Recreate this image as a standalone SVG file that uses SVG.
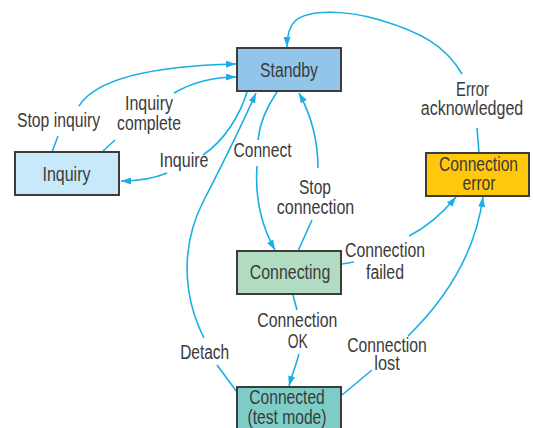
<svg xmlns="http://www.w3.org/2000/svg" width="533" height="428" viewBox="0 0 533 428">
<defs>
<marker id="arr" viewBox="0 0 10 7" refX="10" refY="3.5" markerWidth="10" markerHeight="7" markerUnits="userSpaceOnUse" orient="auto">
<path d="M0,0 L10,3.5 L0,7 z" fill="#1aaee6"/>
</marker>
<style>
.box{stroke:#3c3c3c;stroke-width:2}
text{font-family:"Liberation Sans Narrow","Liberation Sans",Arial,sans-serif;font-size:20px;fill:#3a3a3a;text-anchor:middle}
.c{fill:none;stroke:#1aaee6;stroke-width:1.6}
.a{marker-end:url(#arr)}
</style>
</defs>
<rect width="533" height="428" fill="#ffffff"/>
<g id="connectors">
<!-- Stop inquiry -->
<path class="c" d="M52,152 L58,136"/>
<path class="c a" d="M79,106 C95,80 150,66 236,64"/>
<!-- Inquiry complete -->
<path class="c" d="M102,152 L115,140"/>
<path class="c a" d="M174,93 C195,81 215,77 236,77"/>
<!-- Inquire -->
<path class="c" d="M247,92 C240,115 225,140 203,155"/>
<path class="c a" d="M167,173 C155,178 140,181 121,181"/>
<!-- Detach -->
<path class="c" d="M237,392 L217,365"/>
<path class="c a" d="M204,338 C180,290 183,240 204,200 C222,165 243,122 256,93"/>
<!-- Connect -->
<path class="c" d="M277,92 C268,105 260,120 258,140"/>
<path class="c a" d="M257,166 C255,195 261,225 275,250"/>
<!-- Stop connection -->
<path class="c" d="M298,251 L312,220"/>
<path class="c a" d="M318,168 C318,140 311,115 299,93"/>
<!-- Connection failed -->
<path class="c" d="M342,264 L354,262"/>
<path class="c a" d="M409,236 C425,228 441,215 456,197"/>
<!-- Connection lost -->
<path class="c" d="M342,395 L372,370"/>
<path class="c a" d="M408,336 C445,300 475,255 483,197"/>
<!-- Connection OK -->
<path class="c" d="M293,295 L297,310"/>
<path class="c a" d="M299,354 C296,365 292,375 289,386"/>
<!-- Error acknowledged -->
<path class="c" d="M479,153 L477,128"/>
<path class="c a" d="M462,74 C445,45 420,32 380,20 C350,11 310,8 295,21 C289,27 287,37 287,47"/>
</g>
<g id="labels">
<text x="58.5" y="126.5" textLength="83" lengthAdjust="spacingAndGlyphs">Stop inquiry</text>
<text x="149" y="110" textLength="48" lengthAdjust="spacingAndGlyphs">Inquiry</text>
<text x="149" y="130" textLength="64" lengthAdjust="spacingAndGlyphs">complete</text>
<text x="184" y="167" textLength="49" lengthAdjust="spacingAndGlyphs">Inquire</text>
<text x="262.5" y="157" textLength="58" lengthAdjust="spacingAndGlyphs">Connect</text>
<text x="315" y="193.5" textLength="32" lengthAdjust="spacingAndGlyphs">Stop</text>
<text x="315.5" y="214" textLength="77.5" lengthAdjust="spacingAndGlyphs">connection</text>
<text x="472.5" y="96" textLength="33" lengthAdjust="spacingAndGlyphs">Error</text>
<text x="472" y="114.5" textLength="102.5" lengthAdjust="spacingAndGlyphs">acknowledged</text>
<text x="385" y="257" textLength="80" lengthAdjust="spacingAndGlyphs">Connection</text>
<text x="385" y="278.5" textLength="38" lengthAdjust="spacingAndGlyphs">failed</text>
<text x="297.3" y="327" textLength="80" lengthAdjust="spacingAndGlyphs">Connection</text>
<text x="297.7" y="347.5" textLength="20" lengthAdjust="spacingAndGlyphs">OK</text>
<text x="204.7" y="358.5" textLength="49" lengthAdjust="spacingAndGlyphs">Detach</text>
<text x="387" y="352" textLength="79.5" lengthAdjust="spacingAndGlyphs">Connection</text>
<text x="387" y="370" textLength="25.5" lengthAdjust="spacingAndGlyphs">lost</text>
</g>
<g id="standby">
<rect class="box" x="237" y="48" width="104" height="43" fill="#92c5ea"/>
<text x="289" y="77" textLength="58" lengthAdjust="spacingAndGlyphs">Standby</text>
</g>
<g id="inquiry">
<rect class="box" x="15" y="152" width="104" height="43" fill="#c7e9f9"/>
<text x="66.5" y="181" textLength="48" lengthAdjust="spacingAndGlyphs">Inquiry</text>
</g>
<g id="connection-error">
<rect class="box" x="426" y="153" width="103" height="43" fill="#ffc80a"/>
<text x="478.5" y="171" textLength="79" lengthAdjust="spacingAndGlyphs">Connection</text>
<text x="479" y="190" textLength="33" lengthAdjust="spacingAndGlyphs">error</text>
</g>
<g id="connecting">
<rect class="box" x="237" y="251" width="104" height="43" fill="#b2dcc2"/>
<text x="290" y="278.5" textLength="80.5" lengthAdjust="spacingAndGlyphs">Connecting</text>
</g>
<g id="connected">
<rect class="box" x="237" y="387" width="104" height="46" fill="#7ecdc7"/>
<text x="287" y="404" textLength="75.5" lengthAdjust="spacingAndGlyphs">Connected</text>
<text x="287" y="423.5" textLength="79" lengthAdjust="spacingAndGlyphs">(test mode)</text>
</g>
</svg>
